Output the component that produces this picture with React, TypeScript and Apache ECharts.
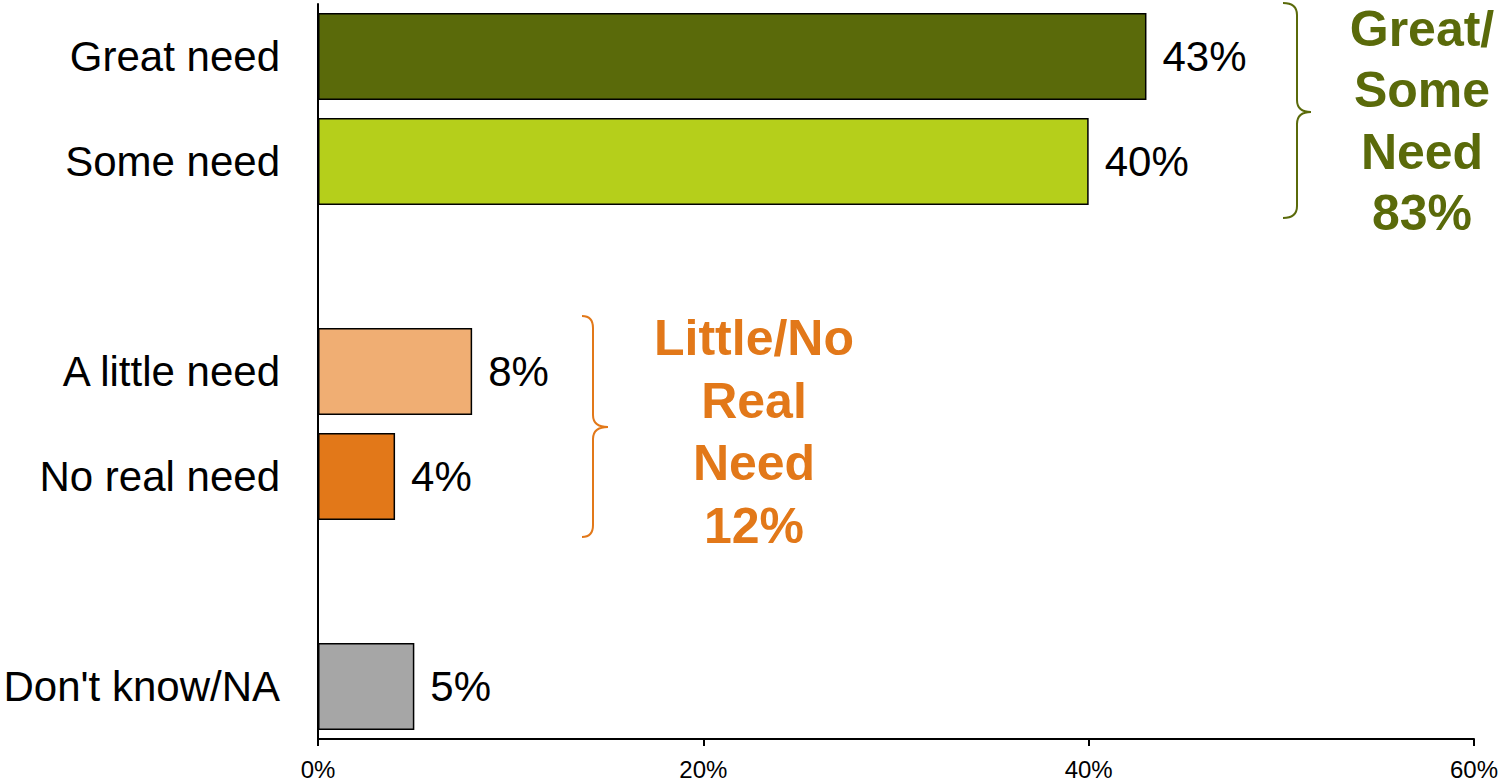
import React, { useEffect, useRef } from "react";
import * as echarts from "echarts";

const categories = ["Great need", "Some need", "", "A little need", "No real need", "", "Don't know/NA"];
const values: (number | null)[] = [43, 40, null, 8, 4, null, 5];
const barColors = ["#5A6A0A", "#B5CF1B", "transparent", "#F0AE73", "#E27819", "transparent", "#A6A6A6"];
const xTicks = { min: 0, max: 60, interval: 20 };
const greenLines = ["Great/", "Some", "Need", "83%"];
const orangeLines = ["Little/No", "Real", "Need", "12%"];
const groupColors = ["#5A6A0A", "#E27819"];

const FONT = '"Liberation Sans", Arial, sans-serif';

echarts.graphic.registerShape(
  "braceGreen",
  echarts.graphic.extendPath(
    "M1283,3 Q1297,3 1297,15 L1297,100 Q1297,112 1311,112 Q1297,112 1297,124 L1297,206 Q1297,218 1283,218",
    {}
  )
);
echarts.graphic.registerShape(
  "braceOrange",
  echarts.graphic.extendPath(
    "M582,316 Q593,316 593,328 L593,415 Q593,427 608,427 Q593,427 593,439 L593,525 Q593,537 582,537",
    {}
  )
);

function groupText(lines: string[], cx: number, y0: number, gap: number, color: string) {
  return lines.map((t, i) => ({
    type: "text",
    x: cx,
    y: y0 + i * gap,
    style: {
      text: t,
      fill: color,
      fontSize: 50,
      fontWeight: "bold",
      fontFamily: FONT,
      align: "center",
      verticalAlign: "middle",
    },
  }));
}

export default function App() {
  const ref = useRef<HTMLDivElement>(null);
  useEffect(() => {
    const chart = echarts.init(ref.current!, null, { renderer: "svg" });
    chart.setOption({
      animation: false,
      backgroundColor: "#ffffff",
      grid: { left: 318, right: 28, top: 4, bottom: 45, containLabel: false },
      xAxis: {
        type: "value",
        min: xTicks.min,
        max: xTicks.max,
        interval: xTicks.interval,
        axisLine: { show: true, lineStyle: { color: "#000", width: 2 } },
        axisTick: { show: true, length: 7, lineStyle: { color: "#000", width: 2 } },
        splitLine: { show: false },
        axisLabel: {
          formatter: "{value}%",
          fontSize: 24,
          fontFamily: FONT,
          color: "#000",
          margin: 18,
        },
      },
      yAxis: {
        type: "category",
        data: categories,
        inverse: true,
        axisLine: { show: true, lineStyle: { color: "#000", width: 2 } },
        axisTick: { show: false },
        axisLabel: { fontSize: 42, fontFamily: FONT, color: "#000", margin: 38 },
      },
      series: [
        {
          type: "bar",
          barWidth: 87,
          data: values.map((v, i) => ({
            value: v,
            itemStyle: { color: barColors[i], borderColor: "#000", borderWidth: 1.5 },
          })),
          label: {
            show: true,
            position: "right",
            distance: 16,
            formatter: "{c}%",
            fontSize: 42,
            fontFamily: FONT,
            color: "#000",
          },
        },
      ],
      graphic: [
        {
          type: "braceGreen",
          style: { stroke: groupColors[0], lineWidth: 2, fill: "none" },
        },
        {
          type: "braceOrange",
          style: { stroke: groupColors[1], lineWidth: 2, fill: "none" },
        },
        ...groupText(greenLines, 1422, 29, 61.3, groupColors[0]),
        ...groupText(orangeLines, 754, 338, 62.7, groupColors[1]),
      ],
    });
    return () => chart.dispose();
  }, []);
  return (
    <div
      ref={ref}
      style={{ position: "fixed", left: 0, top: 0, width: 1502, height: 784, background: "#fff" }}
    />
  );
}
